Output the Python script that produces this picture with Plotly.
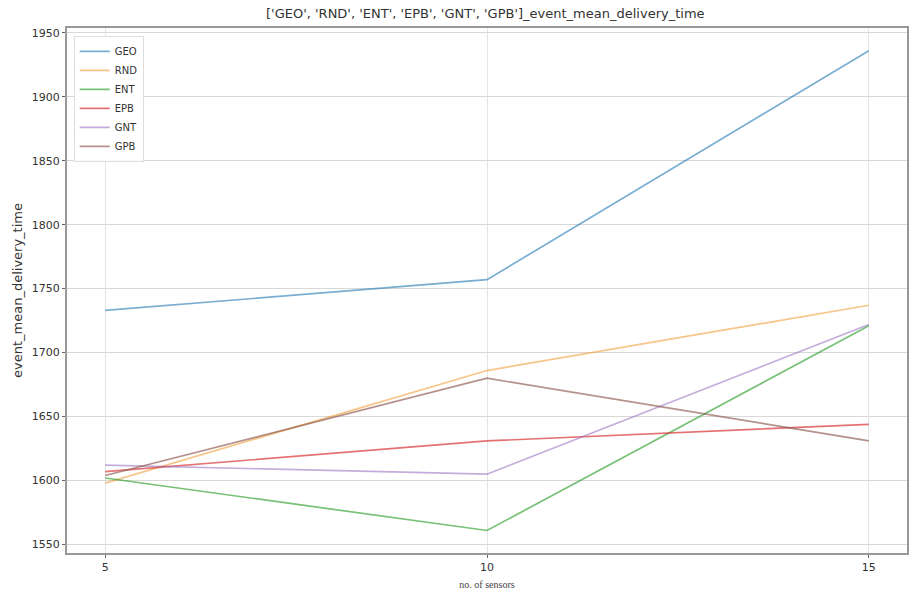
import plotly.graph_objects as go

sensors = [5, 10, 15]
series_names = ["GEO", "RND", "ENT", "EPB", "GNT", "GPB"]
geo = [1733, 1757, 1936]
rnd = [1598, 1686, 1737]
ent = [1602, 1561, 1721]
epb = [1607, 1631, 1644]
gnt = [1612, 1605, 1722]
gpb = [1604, 1680, 1631]
colors = ["rgba(31,119,180,0.6)", "rgba(240,150,40,0.55)", "rgba(44,160,44,0.65)",
          "rgba(214,39,40,0.65)", "rgba(148,103,189,0.55)", "rgba(140,86,75,0.65)"]
yticks = [1550, 1600, 1650, 1700, 1750, 1800, 1850, 1900, 1950]
xticks = [5, 10, 15]

fig = go.Figure()
for name, vals, c in zip(series_names, [geo, rnd, ent, epb, gnt, gpb], colors):
    fig.add_trace(go.Scatter(x=sensors, y=vals, mode="lines", name=name,
                             line=dict(color=c, width=1.7)))

fig.update_layout(
    width=911, height=597,
    margin=dict(l=67, r=2, t=28, b=44),
    paper_bgcolor="white", plot_bgcolor="white",
    font=dict(family="DejaVu Sans", size=11, color="#333"),
    title=dict(text="['GEO', 'RND', 'ENT', 'EPB', 'GNT', 'GPB']_event_mean_delivery_time",
               x=0.5327, xanchor="center", y=0.978, yanchor="middle",
               font=dict(size=13, color="#333")),
    showlegend=True,
    legend=dict(x=0.008, y=0.985, xanchor="left", yanchor="top",
                bordercolor="#ddd", borderwidth=1, bgcolor="rgba(255,255,255,0.9)",
                font=dict(size=10, color="#333"), tracegroupgap=0),
    xaxis=dict(range=[4.5, 15.5], tickvals=xticks, showgrid=True, gridcolor="#e4e4e4",
               zeroline=False, showline=True, linecolor="#999", linewidth=2, mirror=True,
               ticks="outside", ticklen=3, tickcolor="#666",
               title=dict(text="no. of sensors", font=dict(family="Liberation Serif", size=10, color="#444"),
                          standoff=8)),
    yaxis=dict(range=[1543.4, 1953.7], tickvals=yticks, showgrid=True, gridcolor="#d8d8d8",
               zeroline=False, showline=True, linecolor="#999", linewidth=2, mirror=True,
               ticks="outside", ticklen=3, tickcolor="#666",
               title=dict(text="event_mean_delivery_time", font=dict(size=13, color="#333"),
                          standoff=6)),
)

fig.write_html("out.html")
